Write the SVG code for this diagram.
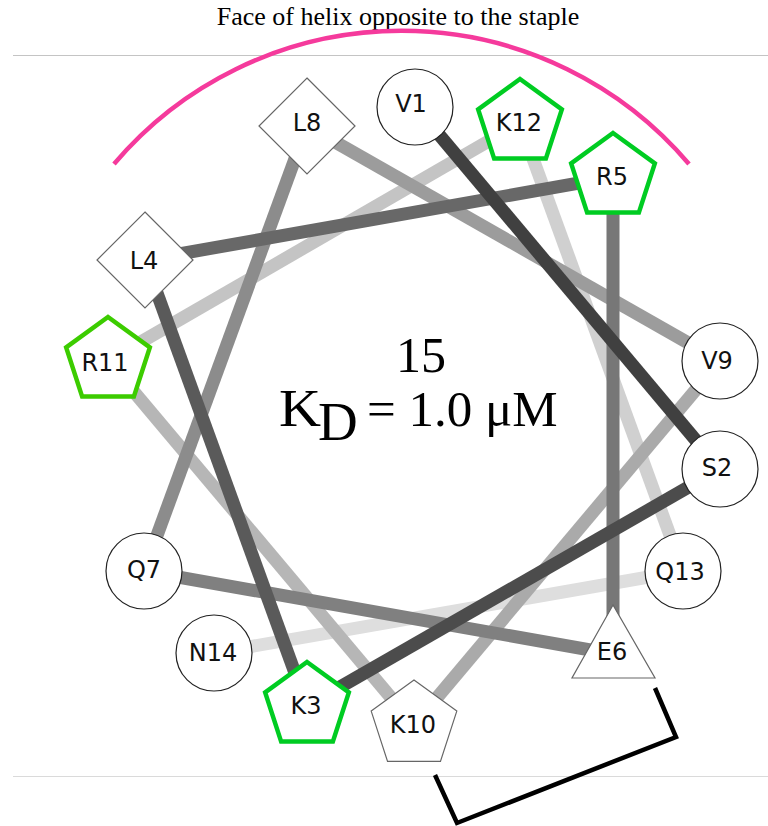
<svg xmlns="http://www.w3.org/2000/svg" xmlns:xlink="http://www.w3.org/1999/xlink" width="768" height="826" viewBox="0 0 768 826">
<defs>
<style>
.lbl{font-family:"DejaVu Sans","Liberation Sans",sans-serif;font-size:24px;fill:#111;text-anchor:middle}
.serif{font-family:"Liberation Serif","Times New Roman",serif;fill:#000}
.circ{fill:#fff;stroke:#222;stroke-width:1.2}
.thin{fill:#fff;stroke:#666;stroke-width:1.2}
.green{fill:#fff;stroke:#00cc22;stroke-width:4.5;stroke-linejoin:miter}
.conn line{stroke-width:13;stroke-linecap:butt}
</style>
<polygon id="pent" points="0,-44 41.85,-13.6 25.86,35.6 -25.86,35.6 -41.85,-13.6"/>
<polygon id="pentT" points="0,-45 42.8,-13.9 26.45,36.4 -26.45,36.4 -42.8,-13.9"/>
<polygon id="diam" points="0,-48 48,0 0,48 -48,0"/>
</defs>
<rect width="768" height="826" fill="#fff"/>
<line x1="13" y1="55.5" x2="768" y2="55.5" stroke="#c4c4c4" stroke-width="1.2"/>
<line x1="13" y1="776.5" x2="768" y2="776.5" stroke="#dadada" stroke-width="1.2"/>
<text class="serif" x="398" y="25" font-size="26" text-anchor="middle">Face of helix opposite to the staple</text>
<path d="M114,164 A377,377 0 0 1 689,164" fill="none" stroke="#f53a9c" stroke-width="4.5"/>
<g id="connectors" class="conn">
<line x1="683" y1="571" x2="214" y2="653" stroke="#dedede"/>
<line x1="520" y1="123" x2="683" y2="571" stroke="#d0d0d0"/>
<line x1="108" y1="361" x2="520" y2="123" stroke="#c4c4c4"/>
<line x1="414" y1="725" x2="108" y2="361" stroke="#b6b6b6"/>
<line x1="720" y1="361" x2="414" y2="725" stroke="#aaaaaa"/>
<line x1="307" y1="126" x2="720" y2="361" stroke="#9c9c9c"/>
<line x1="144" y1="571" x2="307" y2="126" stroke="#8c8c8c"/>
<line x1="613" y1="654" x2="144" y2="571" stroke="#808080"/>
<line x1="613" y1="177" x2="613" y2="654" stroke="#777777"/>
<line x1="145" y1="260" x2="613" y2="177" stroke="#686868"/>
<line x1="307" y1="706" x2="145" y2="260" stroke="#5a5a5a"/>
<line x1="720" y1="469" x2="307" y2="706" stroke="#4c4c4c"/>
<line x1="415" y1="106" x2="720" y2="469" stroke="#404040"/>
</g>
<g id="V1"><circle class="circ" cx="415" cy="107" r="38"/><text class="lbl" x="411" y="112">V1</text></g>
<g id="S2"><circle class="circ" cx="720" cy="469" r="38"/><text class="lbl" x="717" y="476">S2</text></g>
<g id="K3"><use xlink:href="#pent" class="green" x="307" y="706"/><text class="lbl" x="306" y="714">K3</text></g>
<g id="L4"><use xlink:href="#diam" class="thin" x="145" y="260"/><text class="lbl" x="144" y="269">L4</text></g>
<g id="R5"><use xlink:href="#pent" class="green" x="613" y="177"/><text class="lbl" x="612" y="185">R5</text></g>
<g id="E6"><polygon class="thin" points="613,605 572,678 655,678"/><text class="lbl" x="612" y="660">E6</text></g>
<g id="Q7"><circle class="circ" cx="144" cy="571" r="38"/><text class="lbl" x="144" y="578">Q7</text></g>
<g id="L8"><use xlink:href="#diam" class="thin" x="307" y="126"/><text class="lbl" x="307" y="131">L8</text></g>
<g id="V9"><circle class="circ" cx="720" cy="361" r="38"/><text class="lbl" x="717" y="369">V9</text></g>
<g id="K10"><use xlink:href="#pentT" class="thin" x="414" y="725"/><text class="lbl" x="413" y="733">K10</text></g>
<g id="R11"><use xlink:href="#pent" class="green" x="108" y="361" style="stroke:#3ccc00"/><text class="lbl" x="105" y="371">R11</text></g>
<g id="K12"><use xlink:href="#pent" class="green" x="520" y="123"/><text class="lbl" x="519" y="131">K12</text></g>
<g id="Q13"><circle class="circ" cx="683" cy="571" r="38"/><text class="lbl" x="680" y="580">Q13</text></g>
<g id="N14"><circle class="circ" cx="214" cy="653" r="38"/><text class="lbl" x="213" y="661">N14</text></g>
<text class="serif" x="421" y="372" font-size="50" text-anchor="middle">15</text>
<text class="serif" font-size="52" transform="translate(279,426) scale(1.12,1)">K</text>
<text class="serif" font-size="55" x="318" y="440">D</text>
<text class="serif" font-size="51" x="367" y="426">= 1.0 μM</text>
<polyline points="655,688 676,737 457,823 435,775" fill="none" stroke="#000" stroke-width="4.5" stroke-linejoin="miter"/>
</svg>
